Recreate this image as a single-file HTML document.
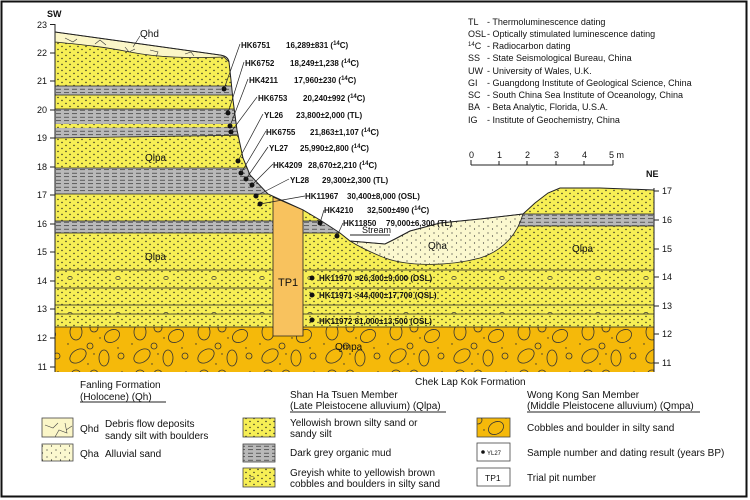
<!DOCTYPE html>
<html><head><meta charset="utf-8"><style>
html,body{margin:0;padding:0;background:#fff}
svg{display:block}
text{font-family:"Liberation Sans",Arial,sans-serif;fill:#111}
.s{font-size:8px;font-weight:bold}
.l{font-size:10px}
.k{font-size:9px}
.ax{font-size:9px}
</style></head><body>
<svg width="750" height="500" viewBox="0 0 750 500" xmlns="http://www.w3.org/2000/svg">
<defs>
<pattern id="yd" width="8" height="6" patternUnits="userSpaceOnUse">
<rect width="8" height="6" fill="#f7ef55"/><circle cx="2" cy="1.5" r="0.7" fill="#222"/><circle cx="6" cy="4.5" r="0.7" fill="#222"/>
</pattern>
<pattern id="gd" width="8" height="3.5" patternUnits="userSpaceOnUse">
<rect width="8" height="3.5" fill="#b9b9b9"/><line x1="0" y1="1.7" x2="5" y2="1.7" stroke="#333" stroke-width="0.7"/>
</pattern>
<pattern id="cb" width="48" height="18" patternUnits="userSpaceOnUse">
<rect width="48" height="18" fill="#f7ef55"/>
<g fill="#222"><circle cx="2" cy="1.5" r="0.7"/><circle cx="10" cy="1.5" r="0.7"/><circle cx="18" cy="1.5" r="0.7"/><circle cx="26" cy="1.5" r="0.7"/><circle cx="34" cy="1.5" r="0.7"/><circle cx="42" cy="1.5" r="0.7"/>
<circle cx="6" cy="4.5" r="0.7"/><circle cx="14" cy="4.5" r="0.7"/><circle cx="30" cy="4.5" r="0.7"/><circle cx="38" cy="4.5" r="0.7"/><circle cx="46" cy="4.5" r="0.7"/>
<circle cx="2" cy="7.5" r="0.7"/><circle cx="10" cy="7.5" r="0.7"/><circle cx="34" cy="7.5" r="0.7"/><circle cx="42" cy="7.5" r="0.7"/>
<circle cx="6" cy="10.5" r="0.7"/><circle cx="14" cy="10.5" r="0.7"/><circle cx="30" cy="10.5" r="0.7"/><circle cx="38" cy="10.5" r="0.7"/><circle cx="46" cy="10.5" r="0.7"/>
<circle cx="2" cy="13.5" r="0.7"/><circle cx="10" cy="13.5" r="0.7"/><circle cx="18" cy="13.5" r="0.7"/><circle cx="26" cy="13.5" r="0.7"/><circle cx="34" cy="13.5" r="0.7"/><circle cx="42" cy="13.5" r="0.7"/>
<circle cx="6" cy="16.5" r="0.7"/><circle cx="14" cy="16.5" r="0.7"/><circle cx="22" cy="16.5" r="0.7"/><circle cx="30" cy="16.5" r="0.7"/><circle cx="38" cy="16.5" r="0.7"/><circle cx="46" cy="16.5" r="0.7"/></g>
<ellipse cx="22" cy="8" rx="2.2" ry="1.6" fill="none" stroke="#333" stroke-width="0.7"/>
</pattern>
<pattern id="ha" width="9" height="7" patternUnits="userSpaceOnUse">
<rect width="9" height="7" fill="#fbf8cf"/><circle cx="2" cy="2" r="0.6" fill="#333"/><circle cx="6.5" cy="5" r="0.6" fill="#333"/>
</pattern>
<pattern id="mp" width="64" height="46" patternUnits="userSpaceOnUse">
<rect width="64" height="46" fill="#f5b90a"/>
<ellipse cx="12" cy="10" rx="6" ry="8" fill="none" stroke="#333" stroke-width="0.8"/>
<circle cx="30" cy="6" r="4" fill="none" stroke="#333" stroke-width="0.8"/>
<ellipse cx="48" cy="14" rx="8" ry="6" fill="none" stroke="#333" stroke-width="0.8" transform="rotate(-30 48 14)"/>
<circle cx="26" cy="24" r="3" fill="none" stroke="#333" stroke-width="0.8"/>
<ellipse cx="14" cy="34" rx="9" ry="6" fill="none" stroke="#333" stroke-width="0.8" transform="rotate(-35 14 34)"/>
<ellipse cx="40" cy="36" rx="5" ry="8" fill="none" stroke="#333" stroke-width="0.8"/>
<circle cx="57" cy="34" r="3" fill="none" stroke="#333" stroke-width="0.8"/>
<circle cx="4" cy="22" r="0.7" fill="#333"/><circle cx="36" cy="16" r="0.7" fill="#333"/><circle cx="54" cy="26" r="0.7" fill="#333"/><circle cx="24" cy="42" r="0.7" fill="#333"/><circle cx="58" cy="4" r="0.7" fill="#333"/><circle cx="30" cy="32" r="0.7" fill="#333"/>
</pattern>
<clipPath id="gc"><path d="M55,32 L220,55 Q228,56 229,62 L231,80 L233,100 L237,130 L243,158 L250,175 L268,194 L303,210 L320,220 L340,233 L350,241 L385,244 L395,239 L410,231 L440,223 L480,219 L523,214 L535,203 L548,193 L560,188 L600,188 L654,190 L654,372 L55,372 Z"/></clipPath>
</defs>
<rect x="1.5" y="1.5" width="745" height="495" fill="#fff" stroke="#111" stroke-width="2"/>
<g clip-path="url(#gc)">
<rect x="55" y="20" width="600" height="352" fill="url(#yd)"/>
<rect x="55" y="86" width="200" height="9" fill="url(#gd)"/>
<rect x="55" y="109" width="200" height="15" fill="url(#gd)"/>
<path d="M55,128 L255,127 L255,135 L55,138 Z" fill="url(#gd)"/>
<rect x="55" y="168" width="220" height="26" fill="url(#gd)"/>
<rect x="55" y="221" width="290" height="12" fill="url(#gd)"/>
<rect x="515" y="214" width="140" height="12" fill="url(#gd)"/>
<rect x="55" y="270" width="600" height="18" fill="url(#cb)"/>
<rect x="55" y="305" width="600" height="9" fill="url(#cb)"/>
<rect x="55" y="327" width="600" height="46" fill="url(#mp)"/>
<g stroke="#222" stroke-width="0.8" fill="none">
<line x1="55" y1="86" x2="255" y2="86"/><line x1="55" y1="95" x2="255" y2="95"/>
<line x1="55" y1="109" x2="255" y2="109"/><line x1="55" y1="138" x2="255" y2="135"/>
<line x1="55" y1="168" x2="275" y2="168"/><line x1="55" y1="194" x2="275" y2="194"/>
<line x1="55" y1="221" x2="345" y2="221"/><line x1="55" y1="233" x2="345" y2="233"/>
<line x1="515" y1="214" x2="655" y2="214"/><line x1="515" y1="226" x2="655" y2="226"/>
<line x1="55" y1="270" x2="655" y2="270"/><line x1="55" y1="288" x2="655" y2="288"/>
<line x1="55" y1="305" x2="655" y2="305"/><line x1="55" y1="314" x2="655" y2="314"/>
<line x1="55" y1="327" x2="655" y2="327"/>
</g>
</g>
<path d="M350,241 L385,244 L395,239 L410,231 L440,223 L480,219 L523,214 C518,232 505,250 480,258 C450,266 410,267 385,258 C370,252 358,246 350,241 Z" fill="url(#ha)" stroke="#222" stroke-width="0.8"/>
<path d="M55,32 L220,55 Q228,56 229,62 L224,57 C190,58 160,58 130,52 C100,46 75,44 55,42 Z" fill="#fbf6c8" stroke="#222" stroke-width="0.8"/>
<path d="M65,38 l8,4 l4,-3 M95,44 l5,-4 l6,5 M125,47 l4,5 l6,-3 M150,50 l8,2 l-2,5 M185,54 l6,-2 l3,4" stroke="#333" stroke-width="0.6" fill="none"/>
<path d="M55,32 L220,55 Q228,56 229,62 L231,80 L233,100 L237,130 L243,158 L250,175 L268,194 L303,210 L320,220 L340,233 L350,241 L385,244 L395,239 L410,231 L440,223 L480,219 L523,214 L535,203 L548,193 L560,188 L600,188 L654,190" fill="none" stroke="#222" stroke-width="1"/>
<line x1="350" y1="235" x2="390" y2="235" stroke="#222" stroke-width="1"/>
<path d="M273,197 L303,210 L303,336 L273,336 Z" fill="#f8c25e" stroke="#222" stroke-width="0.8"/>
<g stroke="#222" stroke-width="1">
<line x1="55" y1="24" x2="55" y2="372"/><line x1="654" y1="188" x2="654" y2="372"/>
<line x1="50" y1="24.5" x2="55" y2="24.5"/><line x1="50" y1="53" x2="55" y2="53"/><line x1="50" y1="81" x2="55" y2="81"/><line x1="50" y1="110" x2="55" y2="110"/><line x1="50" y1="138" x2="55" y2="138"/><line x1="50" y1="167" x2="55" y2="167"/><line x1="50" y1="195" x2="55" y2="195"/><line x1="50" y1="224" x2="55" y2="224"/><line x1="50" y1="252" x2="55" y2="252"/><line x1="50" y1="281" x2="55" y2="281"/><line x1="50" y1="309" x2="55" y2="309"/><line x1="50" y1="338" x2="55" y2="338"/><line x1="50" y1="367" x2="55" y2="367"/>
<line x1="654" y1="191" x2="659" y2="191"/><line x1="654" y1="220" x2="659" y2="220"/><line x1="654" y1="249" x2="659" y2="249"/><line x1="654" y1="277" x2="659" y2="277"/><line x1="654" y1="306" x2="659" y2="306"/><line x1="654" y1="334" x2="659" y2="334"/><line x1="654" y1="363" x2="659" y2="363"/>
</g>
<g class="ax" text-anchor="end">
<text x="47" y="28">23</text><text x="47" y="56">22</text><text x="47" y="84">21</text><text x="47" y="113">20</text><text x="47" y="141">19</text><text x="47" y="170">18</text><text x="47" y="198">17</text><text x="47" y="227">16</text><text x="47" y="255">15</text><text x="47" y="284">14</text><text x="47" y="312">13</text><text x="47" y="341">12</text><text x="47" y="370">11</text>
</g>
<g class="ax"><text x="662" y="194">17</text><text x="662" y="223">16</text><text x="662" y="252">15</text><text x="662" y="280">14</text><text x="662" y="309">13</text><text x="662" y="337">12</text><text x="662" y="366">11</text></g>
<text x="47" y="17" style="font-size:9px;font-weight:bold">SW</text>
<text x="646" y="177" style="font-size:9px;font-weight:bold">NE</text>
<text x="140" y="37" class="l">Qhd</text><line x1="133" y1="47" x2="140" y2="36" stroke="#222" stroke-width="0.6"/>
<text x="145" y="161" class="l">Qlpa</text>
<text x="145" y="260" class="l">Qlpa</text>
<text x="572" y="252" class="l">Qlpa</text>
<text x="428" y="249" class="l">Qha</text>
<text x="362" y="233" style="font-size:9px">Stream</text>
<text x="278" y="286" style="font-size:11px">TP1</text>
<text x="335" y="350" class="l">Qmpa</text>
<g fill="#111">
<circle cx="224" cy="89" r="2.5"/><circle cx="228" cy="113" r="2.5"/><circle cx="230" cy="126" r="2.5"/><circle cx="231" cy="132" r="2.5"/><circle cx="238" cy="161" r="2.5"/><circle cx="241" cy="173" r="2.5"/><circle cx="246" cy="179" r="2.5"/><circle cx="252" cy="185" r="2.5"/><circle cx="256" cy="196" r="2.5"/><circle cx="260" cy="204" r="2.5"/><circle cx="320" cy="223" r="2.5"/><circle cx="337" cy="236" r="2.5"/>
<circle cx="312" cy="278" r="2.5"/><circle cx="312" cy="295" r="2.5"/><circle cx="312" cy="320" r="2.5"/>
</g>
<g stroke="#222" stroke-width="0.7" fill="none">
<path d="M224,89 L240,44"/><path d="M228,113 L244,62"/><path d="M230,126 L248,79"/><path d="M231,132 L257,97"/><path d="M238,161 L263,114"/><path d="M241,173 L266,131"/><path d="M246,179 L268,147"/><path d="M252,185 L273,164"/><path d="M256,196 L289,179"/><path d="M260,204 L305,196"/><path d="M320,223 L324,210"/><path d="M337,236 L343,223"/>
</g>
<g class="s">
<text x="241" y="48">HK6751</text><text x="286" y="48">16,289±831 (<tspan font-size="6" dy="-3">14</tspan><tspan dy="3">C)</tspan></text>
<text x="245" y="66">HK6752</text><text x="290" y="66">18,249±1,238 (<tspan font-size="6" dy="-3">14</tspan><tspan dy="3">C)</tspan></text>
<text x="249" y="83">HK4211</text><text x="294" y="83">17,960±230 (<tspan font-size="6" dy="-3">14</tspan><tspan dy="3">C)</tspan></text>
<text x="258" y="101">HK6753</text><text x="303" y="101">20,240±992 (<tspan font-size="6" dy="-3">14</tspan><tspan dy="3">C)</tspan></text>
<text x="264" y="118">YL26</text><text x="296" y="118">23,800±2,000 (TL)</text>
<text x="266" y="135">HK6755</text><text x="310" y="135">21,863±1,107 (<tspan font-size="6" dy="-3">14</tspan><tspan dy="3">C)</tspan></text>
<text x="269" y="151">YL27</text><text x="300" y="151">25,990±2,800 (<tspan font-size="6" dy="-3">14</tspan><tspan dy="3">C)</tspan></text>
<text x="273" y="168">HK4209</text><text x="308" y="168">28,670±2,210 (<tspan font-size="6" dy="-3">14</tspan><tspan dy="3">C)</tspan></text>
<text x="290" y="183">YL28</text><text x="322" y="183">29,300±2,300 (TL)</text>
<text x="305" y="199">HK11967</text><text x="347" y="199">30,400±8,000 (OSL)</text>
<text x="324" y="213">HK4210</text><text x="367" y="213">32,500±490 (<tspan font-size="6" dy="-3">14</tspan><tspan dy="3">C)</tspan></text>
<text x="343" y="226">HK11850</text><text x="386" y="226">79,000±6,300 (TL)</text>
<text x="319" y="281">HK11970  &gt;26,300±9,000 (OSL)</text>
<text x="319" y="298">HK11971  &gt;44,000±17,700 (OSL)</text>
<text x="319" y="324">HK11972  81,000±13,500 (OSL)</text>
</g>
<g class="k">
<text x="468" y="25">TL</text><text x="487" y="25">-  Thermoluminescence dating</text>
<text x="468" y="37">OSL</text><text x="487" y="37">-  Optically stimulated luminescence dating</text>
<text x="468" y="49"><tspan font-size="6" dy="-3">14</tspan><tspan dy="3">C</tspan></text><text x="487" y="49">-  Radiocarbon dating</text>
<text x="468" y="61">SS</text><text x="487" y="61">-  State Seismological Bureau, China</text>
<text x="468" y="74">UW</text><text x="487" y="74">-  University of Wales, U.K.</text>
<text x="468" y="86">GI</text><text x="487" y="86">-  Guangdong Institute of Geological Science, China</text>
<text x="468" y="98">SC</text><text x="487" y="98">-  South China Sea Institute of Oceanology, China</text>
<text x="468" y="110">BA</text><text x="487" y="110">-  Beta Analytic, Florida, U.S.A.</text>
<text x="468" y="123">IG</text><text x="487" y="123">-  Institute of Geochemistry, China</text>
<text x="469" y="158">0</text><text x="497" y="158">1</text><text x="525" y="158">2</text><text x="554" y="158">3</text><text x="582" y="158">4</text><text x="609" y="158">5 m</text>
</g>
<g stroke="#222" stroke-width="1"><line x1="471" y1="165" x2="613" y2="165"/><line x1="471" y1="160" x2="471" y2="165"/><line x1="499" y1="161" x2="499" y2="165"/><line x1="527" y1="161" x2="527" y2="165"/><line x1="556" y1="161" x2="556" y2="165"/><line x1="584" y1="161" x2="584" y2="165"/><line x1="613" y1="160" x2="613" y2="165"/></g>
<g class="l">
<text x="80" y="388">Fanling Formation</text><text x="80" y="400">(Holocene) (Qh)</text>
<text x="80" y="432">Qhd</text><text x="105" y="427">Debris flow deposits</text><text x="105" y="439">sandy silt with boulders</text>
<text x="80" y="457">Qha</text><text x="105" y="457">Alluvial sand</text>
<text x="415" y="385">Chek Lap Kok Formation</text>
<text x="290" y="398">Shan Ha Tsuen Member</text><text x="290" y="409">(Late Pleistocene alluvium) (Qlpa)</text>
<text x="290" y="426">Yellowish brown silty sand or</text><text x="290" y="437">sandy silt</text>
<text x="290" y="456">Dark grey organic mud</text>
<text x="290" y="476">Greyish white to yellowish brown</text><text x="290" y="487">cobbles and boulders in silty sand</text>
<text x="527" y="398">Wong Kong San Member</text><text x="527" y="409">(Middle Pleistocene alluvium) (Qmpa)</text>
<text x="527" y="431">Cobbles and boulder in silty sand</text>
<text x="527" y="456">Sample number and dating result (years BP)</text>
<text x="527" y="481">Trial pit number</text>
</g>
<g stroke="#222" stroke-width="1">
<line x1="80" y1="402" x2="166" y2="402"/><line x1="290" y1="412" x2="446" y2="412"/><line x1="527" y1="412" x2="700" y2="412"/>
</g>
<g stroke="#444" stroke-width="0.8">
<rect x="42" y="418" width="31" height="19" fill="#fbf6c8"/>
<path d="M45,425 l8,3 l5,-5 M55,437 l4,-7 l8,3 l-2,-10 M66,430 l6,-4" fill="none" stroke-width="0.6"/>
<rect x="42" y="444" width="31" height="17" fill="url(#ha)"/>
<rect x="243" y="418" width="32" height="19" fill="url(#yd)"/>
<rect x="243" y="444" width="32" height="18" fill="url(#gd)"/>
<rect x="243" y="468" width="32" height="19" fill="url(#yd)"/>
<ellipse cx="252" cy="478" rx="2.2" ry="1.5" fill="none" stroke-width="0.6"/>
<rect x="477" y="418" width="33" height="19" fill="url(#mp)"/>
<rect x="477" y="443" width="33" height="18" fill="#fff"/>
<rect x="477" y="468" width="33" height="18" fill="#fff"/>
</g>
<circle cx="483" cy="452" r="1.8" fill="#111"/>
<text x="487" y="455" style="font-size:6px">YL27</text>
<text x="485" y="481" style="font-size:8.5px">TP1</text>
</svg>
</body></html>
